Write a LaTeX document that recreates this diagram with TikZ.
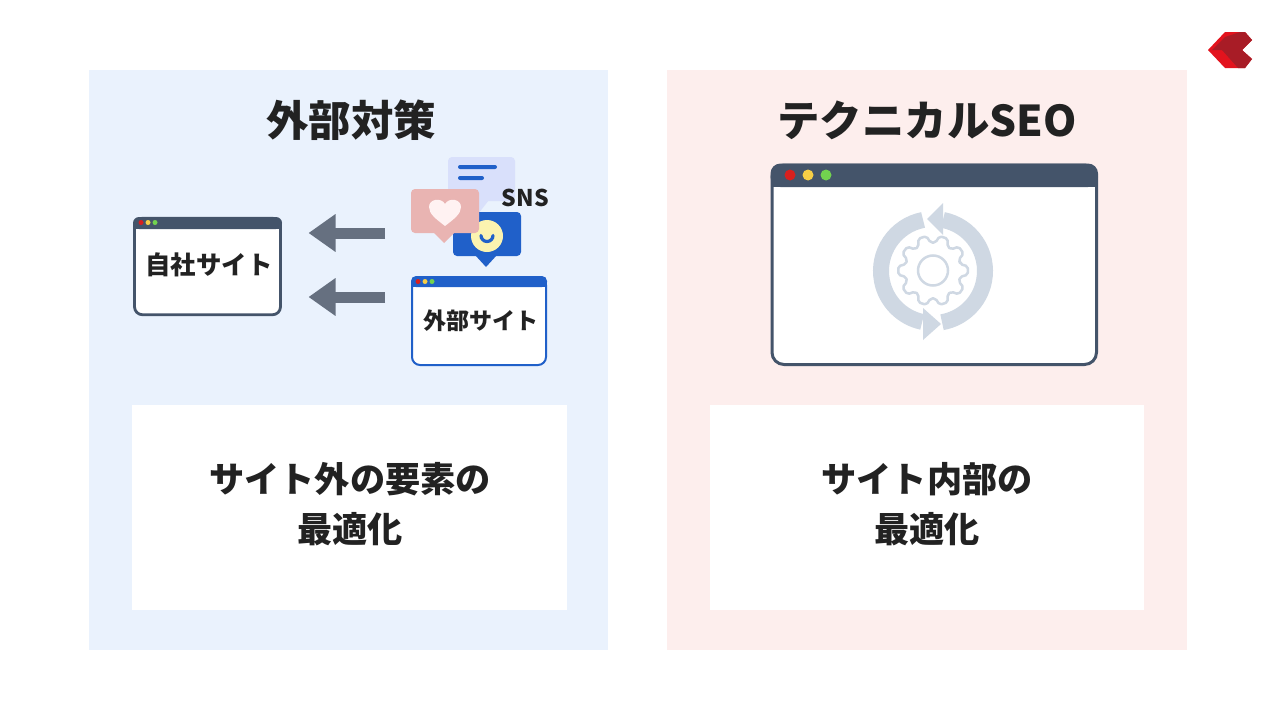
\documentclass[tikz,border=0pt]{standalone}
\usepackage{fontspec}
\setmainfont{Noto Sans CJK JP}
\usetikzlibrary{arrows.meta}
\definecolor{ink}{HTML}{222222}
\definecolor{slatebar}{HTML}{44546A}
\definecolor{linkblue}{HTML}{2060C9}
\definecolor{gearblue}{HTML}{CFD8E3}
\definecolor{arrowgrey}{HTML}{667080}
\definecolor{bluepanel}{HTML}{EAF2FD}
\definecolor{redpanel}{HTML}{FDEEED}
\definecolor{dotred}{HTML}{D8201E}
\definecolor{dotyellow}{HTML}{F6CE46}
\definecolor{dotgreen}{HTML}{72D24F}
\definecolor{bubblelilac}{HTML}{D9E0FB}
\definecolor{bubblepink}{HTML}{E9B4B2}
\definecolor{faceyellow}{HTML}{FBF3B0}
\definecolor{logored}{HTML}{E3131D}
\definecolor{logodark}{HTML}{A81C26}
\tikzset{
  panel/.style={inner sep=0pt,outer sep=0pt,minimum height=580pt,minimum width=519.5pt},
  notebox/.style={fill=white,inner sep=0pt,outer sep=0pt,minimum width=434.5pt,minimum height=205pt},
  notetext/.style={text=ink,inner sep=0pt,align=center,font=\bfseries\fontsize{35.2}{50}\selectfont},
  heading/.style={text=ink,inner sep=0pt,font=\bfseries\fontsize{42.4}{50}\selectfont},
  sitewin/.style={fill=white,rounded corners=8pt,inner sep=0pt,outer sep=0pt},
  sitelabel/.style={text=ink,inner sep=0pt,font=\bfseries\fontsize{25.4}{30}\selectfont},
  bigarrow/.style={arrowgrey,line width=11pt,-{Triangle[length=27pt,width=36pt]}}
}
\begin{document}
\begin{tikzpicture}[x=1pt,y=-1pt]
  \def\windots#1#2#3#4{% first dot x, bar y, gap, radius
    \fill[dotred] (#1,#2) circle (#4);
    \fill[dotyellow] (#1+#3,#2) circle (#4);
    \fill[dotgreen] (#1+#3+#3,#2) circle (#4);}

  \useasboundingbox (0,0) rectangle (1280,720);
  \fill[white] (0,0) rectangle (1280,720);

  % panels
  \node[panel,fill=bluepanel] (outerpanel) at (348.5,360) {};
  \node[panel,fill=redpanel] (techpanel) at (927,360) {};
  \node[heading] (outertitle) at (351,120) {外部対策};
  \node[heading] (techtitle) at (927,120) {テクニカルSEO};
  \node[notebox] (outernote) at (349.5,507.5) {};
  \node[notebox] (technote) at (926.75,507.5) {};
  \node[notetext] (outertext) at (350,504) {サイト外の要素の\\最適化};
  \node[notetext] (techtext) at (927,504) {サイト内部の\\最適化};

  % own site
  \node[sitewin,draw=slatebar,line width=2.8pt,minimum width=146pt,minimum height=96.5pt] (ownsite) at (207.5,266.5) {};
  \fill[slatebar,rounded corners=6pt] (133,229) -- (133,217) -- (282,217) -- (282,229) -- cycle;
  \fill[slatebar] (133,224) rectangle (282,229);
  \windots{141}{222.5}{7}{2.5}
  \node[sitelabel] (ownlabel) at (209,265) {自社サイト};

  % outside site
  \node[sitewin,draw=linkblue,line width=2pt,minimum width=134pt,minimum height=88pt] (extsite) at (479,321) {};
  \fill[linkblue,rounded corners=5pt] (411,287) -- (411,276) -- (547,276) -- (547,287) -- cycle;
  \fill[linkblue] (411,282) rectangle (547,287);
  \windots{418}{281.5}{7}{2.5}
  \node[sitelabel,font=\bfseries\fontsize{23}{28}\selectfont] (extlabel) at (481,321) {外部サイト};

  % arrows
  \coordinate (snsfoot) at (385,233);
  \coordinate (extfoot) at (385,297);
  \draw[bigarrow,shorten >=28pt] (snsfoot) -- (snsfoot -| ownsite.east);
  \draw[bigarrow,shorten >=28pt] (extfoot) -- (extfoot -| ownsite.east);

  % speech bubbles
  \fill[bubblelilac,rounded corners=4pt] (448,157) rectangle (515,201);
  \fill[bubblelilac] (464,200) -- (489,200) -- (478,214) -- cycle;
  \fill[linkblue,rounded corners=2pt] (458,165) rectangle (497,169);
  \fill[linkblue,rounded corners=2pt] (458,176) rectangle (484,180);
  \fill[linkblue,rounded corners=4pt] (453,212) rectangle (521,256);
  \fill[linkblue] (475,255) -- (497,255) -- (486,267) -- cycle;
  \fill[faceyellow] (487,236) circle (16);
  \draw[linkblue,line width=3.2pt,line cap=round] (481,235.5) arc[start angle=180,end angle=0,radius=6];
  \fill[bubblepink,rounded corners=4pt] (411,189) rectangle (479,233);
  \fill[bubblepink] (433,232) -- (455,232) -- (444,243) -- cycle;
  \fill[white!95!red] (445,226) .. controls (436,219) and (429,214) .. (429,207)
    .. controls (429,199) and (441,197) .. (445,204)
    .. controls (449,197) and (461,199) .. (461,207)
    .. controls (461,214) and (454,219) .. (445,226) -- cycle;
  \node[text=ink,inner sep=0pt,font=\bfseries\fontsize{23}{28}\selectfont] (snslabel) at (525,198) {S\kern.5pt N\kern.5pt S};

  % big window
  \node[sitewin,draw=slatebar,line width=3pt,rounded corners=12pt,minimum width=324.5pt,minimum height=199.5pt] (bigwin) at (934.25,264.75) {};
  \fill[slatebar,rounded corners=10pt] (770.5,187) -- (770.5,163.5) -- (1098,163.5) -- (1098,187) -- cycle;
  \fill[slatebar] (770.5,178) rectangle (1098,187);
  \windots{790}{175}{18}{5.5}

  % cycle and gear
  \def\cx{933}
  \def\cy{271}
  \draw[gearblue,line width=16pt] ([shift={(\cx,\cy)}]-79:52) arc[start angle=-79,end angle=80,radius=52];
  \draw[gearblue,line width=16pt] ([shift={(\cx,\cy)}]-101:52) arc[start angle=-101,end angle=-258,radius=52];
  \fill[gearblue] (927,219) -- (943,203) -- (943,235) -- cycle;
  \fill[gearblue] (941,324) -- (923,308) -- (923,340) -- cycle;
  \draw[gearblue,line width=2.5pt,line join=round,rounded corners=2pt] ([shift={(933,270.5)}]-13:28)
    foreach \a in {0,36,...,324}{
      -- ([shift={(933,270.5)}]\a-13:28) -- ([shift={(933,270.5)}]\a-7:35) -- ([shift={(933,270.5)}]\a+7:35) -- ([shift={(933,270.5)}]\a+13:28)
    } -- cycle;
  \draw[gearblue,line width=2.5pt] (933,270.5) circle (15);

  % logo
  \fill[logored] (1208,50) -- (1225,32) -- (1245,32) -- (1252,40) -- (1242,50) -- (1252,59) -- (1245,68) -- (1225,68) -- cycle;
  \fill[logodark] (1212,50) -- (1225,37) -- (1240,32) -- (1245,32) -- (1252,40) -- (1242,50) -- (1222,50) -- cycle;
  \fill[logodark] (1222,50) -- (1242,50) -- (1252,59) -- (1245,68) -- (1238,68) -- cycle;
\end{tikzpicture}
\end{document}
